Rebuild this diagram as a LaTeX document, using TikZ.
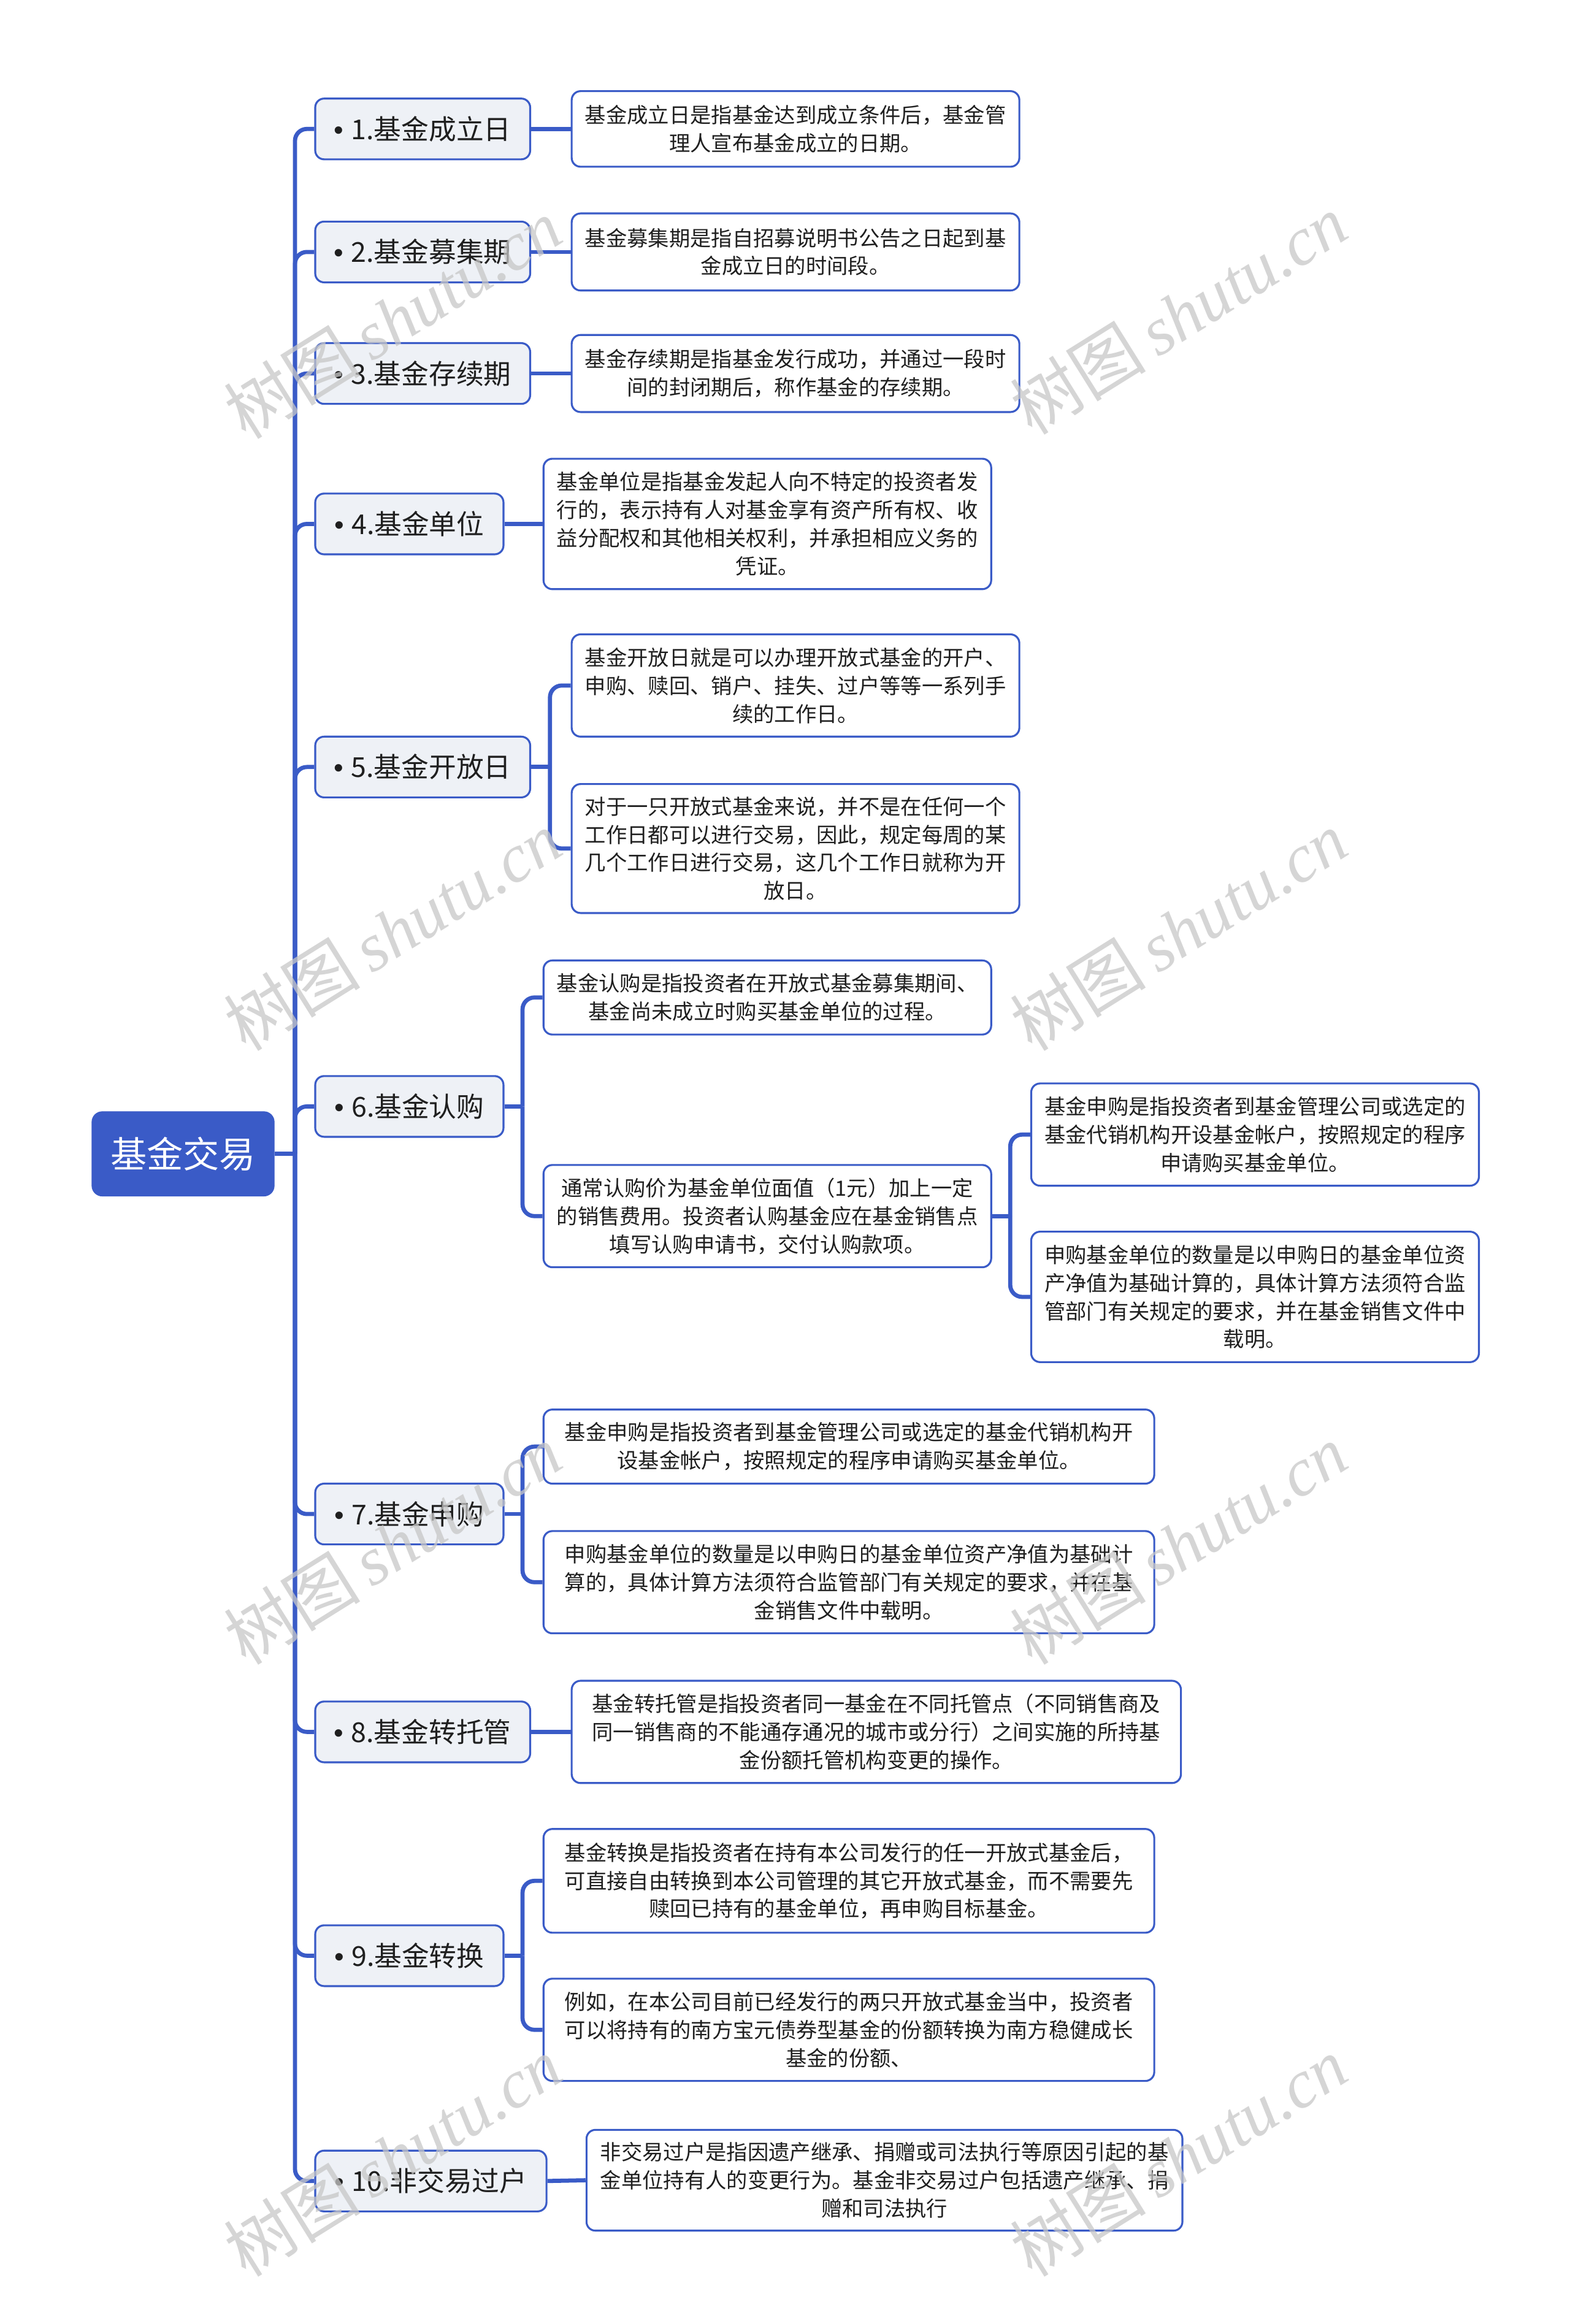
\documentclass[tikz,border=0pt]{standalone}
\usepackage{fontspec}
\newfontfamily\cjk{Noto Sans CJK SC}
\newfontfamily\latinf{Liberation Sans}
\newfontfamily\wmserif{Liberation Serif}
\definecolor{mainblue}{HTML}{3A5BC7}
\definecolor{lightfill}{HTML}{EEF1F6}
\definecolor{txt}{HTML}{1F1F1F}
\newcommand{\bul}{{\latinf •}\hspace{5pt}}
\begin{document}
\begin{tikzpicture}[x=1pt,y=-1pt,
 rootbox/.style={rounded corners=7pt, fill=mainblue, draw=mainblue, text=white, font=\cjk\fontsize{24.5}{28}\selectfont, minimum width=123pt, minimum height=57pt, inner sep=0pt},
 topicbox/.style={rounded corners=6pt, fill=lightfill, draw=mainblue, line width=1.3pt, text=txt, font=\cjk\fontsize{18.5}{22}\selectfont, minimum height=41pt, inner sep=0pt, anchor=west},
 descbox/.style={rounded corners=6pt, fill=white, draw=mainblue, line width=1.3pt, text=txt, font=\cjk\fontsize{14.2}{19}\selectfont, align=center, inner sep=0pt, anchor=west},
 link/.style={draw=mainblue, line width=2.8pt, rounded corners=8pt},
 wm/.style={rotate=32, text=black!22, opacity=0.75, font=\fontsize{46}{50}\selectfont}
]
\useasboundingbox[fill=white] (0,0) rectangle (1059,1568);

% root
\node[rootbox] (root) at (123.5,778.5) {基金交易};

% topics
\node[topicbox, minimum width=145pt] (t1) at (212,87) {\bul 1.基金成立日};
\node[topicbox, minimum width=145pt] (t2) at (212,170) {\bul 2.基金募集期};
\node[topicbox, minimum width=145pt] (t3) at (212,252) {\bul 3.基金存续期};
\node[topicbox, minimum width=127pt] (t4) at (212,353.5) {\bul 4.基金单位};
\node[topicbox, minimum width=145pt] (t5) at (212,517.5) {\bul 5.基金开放日};
\node[topicbox, minimum width=127pt] (t6) at (212,746.5) {\bul 6.基金认购};
\node[topicbox, minimum width=127pt] (t7) at (212,1021.5) {\bul 7.基金申购};
\node[topicbox, minimum width=145pt] (t8) at (212,1168.5) {\bul 8.基金转托管};
\node[topicbox, minimum width=127pt] (t9) at (212,1319.5) {\bul 9.基金转换};
\node[topicbox, minimum width=156pt] (t10) at (212,1471.5) {\bul 10.非交易过户};

% descriptions
\node[descbox, minimum width=302pt, minimum height=51pt] (d1) at (385,87) {基金成立日是指基金达到成立条件后，基金管\\理人宣布基金成立的日期。};
\node[descbox, minimum width=302pt, minimum height=52pt] (d2) at (385,170) {基金募集期是指自招募说明书公告之日起到基\\金成立日的时间段。};
\node[descbox, minimum width=302pt, minimum height=52pt] (d3) at (385,252) {基金存续期是指基金发行成功，并通过一段时\\间的封闭期后，称作基金的存续期。};
\node[descbox, minimum width=302pt, minimum height=88pt] (d4) at (366,353.5) {基金单位是指基金发起人向不特定的投资者发\\行的，表示持有人对基金享有资产所有权、收\\益分配权和其他相关权利，并承担相应义务的\\凭证。};
\node[descbox, minimum width=302pt, minimum height=69pt] (d5a) at (385,462.5) {基金开放日就是可以办理开放式基金的开户、\\申购、赎回、销户、挂失、过户等等一系列手\\续的工作日。};
\node[descbox, minimum width=302pt, minimum height=87pt] (d5b) at (385,572.5) {对于一只开放式基金来说，并不是在任何一个\\工作日都可以进行交易，因此，规定每周的某\\几个工作日进行交易，这几个工作日就称为开\\放日。};
\node[descbox, minimum width=302pt, minimum height=50pt] (d6a) at (366,673) {基金认购是指投资者在开放式基金募集期间、\\基金尚未成立时购买基金单位的过程。};
\node[descbox, minimum width=302pt, minimum height=69pt] (d6b) at (366,820.5) {通常认购价为基金单位面值（1元）加上一定\\的销售费用。投资者认购基金应在基金销售点\\填写认购申请书，交付认购款项。};
\node[descbox, minimum width=302pt, minimum height=69pt] (d6c) at (695,765.5) {基金申购是指投资者到基金管理公司或选定的\\基金代销机构开设基金帐户，按照规定的程序\\申请购买基金单位。};
\node[descbox, minimum width=302pt, minimum height=88pt] (d6d) at (695,875) {申购基金单位的数量是以申购日的基金单位资\\产净值为基础计算的，具体计算方法须符合监\\管部门有关规定的要求，并在基金销售文件中\\载明。};
\node[descbox, minimum width=412pt, minimum height=50pt] (d7a) at (366,976) {基金申购是指投资者到基金管理公司或选定的基金代销机构开\\设基金帐户，按照规定的程序申请购买基金单位。};
\node[descbox, minimum width=412pt, minimum height=69pt] (d7b) at (366,1067.5) {申购基金单位的数量是以申购日的基金单位资产净值为基础计\\算的，具体计算方法须符合监管部门有关规定的要求，并在基\\金销售文件中载明。};
\node[descbox, minimum width=411pt, minimum height=69pt] (d8) at (385,1168.5) {基金转托管是指投资者同一基金在不同托管点（不同销售商及\\同一销售商的不能通存通况的城市或分行）之间实施的所持基\\金份额托管机构变更的操作。};
\node[descbox, minimum width=412pt, minimum height=70pt] (d9a) at (366,1269) {基金转换是指投资者在持有本公司发行的任一开放式基金后，\\可直接自由转换到本公司管理的其它开放式基金，而不需要先\\赎回已持有的基金单位，再申购目标基金。};
\node[descbox, minimum width=412pt, minimum height=69pt] (d9b) at (366,1369.5) {例如，在本公司目前已经发行的两只开放式基金当中，投资者\\可以将持有的南方宝元债券型基金的份额转换为南方稳健成长\\基金的份额、};
\node[descbox, minimum width=402pt, minimum height=68pt] (d10) at (395,1471) {非交易过户是指因遗产继承、捐赠或司法执行等原因引起的基\\金单位持有人的变更行为。基金非交易过户包括遗产继承、捐\\赠和司法执行};

% junction coordinates
\coordinate (trunk) at (199,778.5);
\coordinate (j5) at (371,517.5);
\coordinate (j6) at (352.5,746.5);
\coordinate (j6b) at (681.5,820.5);
\coordinate (j7) at (352.5,1021.5);
\coordinate (j9) at (352.5,1319.5);

% connectors
\draw[link] (root.east) -- (trunk);
\foreach \t in {t1,t2,t3,t4,t5,t6,t7,t8,t9,t10}
  \draw[link] (trunk) |- (\t.west);
\draw[link] (t1.east) -- (d1.west);
\draw[link] (t2.east) -- (d2.west);
\draw[link] (t3.east) -- (d3.west);
\draw[link] (t4.east) -- (d4.west);
\draw[link] (t5.east) -- (j5);
\draw[link] (j5) |- (d5a.west);
\draw[link] (j5) |- (d5b.west);
\draw[link] (t6.east) -- (j6);
\draw[link] (j6) |- (d6a.west);
\draw[link] (j6) |- (d6b.west);
\draw[link] (d6b.east) -- (j6b);
\draw[link] (j6b) |- (d6c.west);
\draw[link] (j6b) |- (d6d.west);
\draw[link] (t7.east) -- (j7);
\draw[link] (j7) |- (d7a.west);
\draw[link] (j7) |- (d7b.west);
\draw[link] (t8.east) -- (d8.west);
\draw[link] (t9.east) -- (j9);
\draw[link] (j9) |- (d9a.west);
\draw[link] (j9) |- (d9b.west);
\draw[link] (t10.east) -- (d10.west);

% watermarks
\foreach \wx/\wy [count=\i] in {265/215, 795/212, 265/628, 795/628, 265/1042, 795/1042, 265/1455, 795/1455}
  \node[wm] (wm\i) at (\wx,\wy) {{\cjk 树图}\hspace{8pt}{\wmserif\itshape shutu.cn}};
\end{tikzpicture}
\end{document}
